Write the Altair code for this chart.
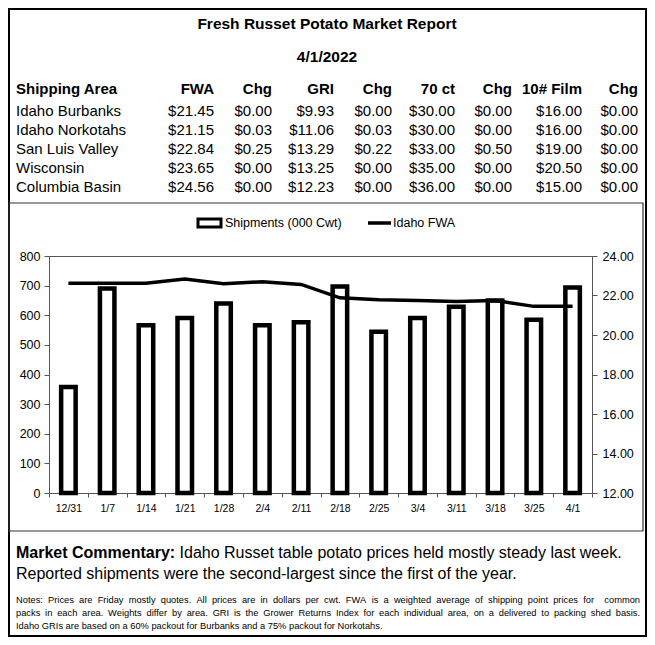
import altair as alt
import pandas as pd

# ---------------- data ----------------
weeks = ["12/31", "1/7", "1/14", "1/21", "1/28", "2/4", "2/11", "2/18",
         "2/25", "3/4", "3/11", "3/18", "3/25", "4/1"]
shipments = [358, 690, 566, 591, 640, 566, 576, 697, 544, 591, 629, 650, 585, 694]
idaho_fwa = [22.62, 22.62, 22.62, 22.84, 22.59, 22.70, 22.56, 21.88, 21.78,
             21.75, 21.70, 21.75, 21.45, 21.45]

areas = ["Idaho Burbanks", "Idaho Norkotahs", "San Luis Valley", "Wisconsin", "Columbia Basin"]
fwa = [21.45, 21.15, 22.84, 23.65, 24.56]
fwa_chg = [0.00, 0.03, 0.25, 0.00, 0.00]
gri = [9.93, 11.06, 13.29, 13.25, 12.23]
gri_chg = [0.00, 0.03, 0.22, 0.00, 0.00]
ct70 = [30.00, 30.00, 33.00, 35.00, 36.00]
ct70_chg = [0.00, 0.00, 0.50, 0.00, 0.00]
film10 = [16.00, 16.00, 19.00, 20.50, 15.00]
film10_chg = [0.00, 0.00, 0.00, 0.00, 0.00]
headers = ["FWA", "Chg", "GRI", "Chg", "70 ct", "Chg", "10# Film", "Chg"]
columns = [fwa, fwa_chg, gri, gri_chg, ct70, ct70_chg, film10, film10_chg]

title_text = "Fresh Russet Potato Market Report"
date_text = "4/1/2022"
legend_bar = "Shipments (000 Cwt)"
legend_line = "Idaho FWA"
comm_bold = "Market Commentary:"
comm_line1 = "Idaho Russet table potato prices held mostly steady last week."
comm_line2 = "Reported shipments were the second-largest since the first of the year."
notes_lines = [
    "Notes: Prices are Friday mostly quotes. All prices are in dollars per cwt. FWA is a weighted average of shipping point prices for  common",
    "packs in each area. Weights differ by area. GRI is the Grower Returns Index for each individual area, on a delivered to packing shed basis.",
    "Idaho GRIs are based on a 60% packout for Burbanks and a 75% packout for Norkotahs.",
]

# ---------------- layout (page px) ----------------
FONT = "Liberation Sans"
PX0, PY0 = 49, 256          # plot-area origin on the page
PW, PH = 543, 237           # plot-area size
SVG_W, SVG_H = 639, 629

# Arial / Liberation Sans advance widths (1/1000 em)
_W = {" ": 278, "!": 278, "#": 556, "$": 556, "%": 889, "(": 333, ")": 333, ",": 278,
      "-": 333, ".": 278, "/": 278, ":": 278, ";": 278}
for c in "0123456789":
    _W[c] = 556
_W.update(dict(zip("ABCDEFGHIJKLMNOPQRSTUVWXYZ",
                   [667, 667, 722, 722, 667, 611, 778, 722, 278, 500, 667, 556, 833,
                    722, 778, 667, 778, 722, 667, 611, 722, 667, 944, 667, 667, 611])))
_W.update(dict(zip("abcdefghijklmnopqrstuvwxyz",
                   [556, 556, 500, 556, 556, 278, 556, 556, 222, 222, 500, 222, 833,
                    556, 556, 556, 556, 333, 500, 278, 556, 500, 722, 500, 500, 500])))
_WB = dict(_W)
_WB.update(dict(zip("abcdefghijklmnopqrstuvwxyz",
                    [556, 611, 556, 611, 556, 333, 611, 611, 278, 278, 556, 278, 889,
                     611, 611, 611, 611, 389, 556, 333, 611, 556, 778, 556, 556, 500])))
_WB.update({":": 333, "A": 722, "B": 722, "C": 722, "M": 833, "S": 667})


def tw(s, size, bold=False):
    t = _WB if bold else _W
    return sum(t.get(c, 556) for c in s) * size / 1000.0


def rx(x):
    return x - PX0


def ry(y):
    return y - PY0


one = pd.DataFrame({"k": [0]})


def text(s, x, y, size, bold=False, align="left", baseline="middle", lh=None, color="black"):
    kw = dict(font=FONT, fontSize=size, align=align, baseline=baseline, color=color,
              fontWeight="bold" if bold else "normal")
    if lh is not None:
        kw["lineHeight"] = lh
    return alt.Chart(one).mark_text(**kw).encode(
        x=alt.value(rx(x)), y=alt.value(ry(y)), text=alt.value(s))


def justified(lines, x0, x1, y0, lh, size):
    """lay out words; all but the last line are stretched to [x0, x1]"""
    rows = []
    for i, ln in enumerate(lines):
        words = ln.split(" ")
        ws = [tw(w, size) for w in words]
        if i < len(lines) - 1 and len(words) > 1:
            gap = (x1 - x0 - sum(ws)) / (len(words) - 1)
        else:
            gap = tw(" ", size)
        x = x0
        for w, wd in zip(words, ws):
            if w:
                rows.append({"w": w, "x": rx(x), "y": ry(y0 + i * lh)})
            x += wd + gap
    d = pd.DataFrame(rows)
    return alt.Chart(d).mark_text(font=FONT, fontSize=size, align="left",
                                  baseline="middle", color="black").encode(
        x=alt.X("x:Q", scale=None, axis=None),
        y=alt.Y("y:Q", scale=None, axis=None),
        text="w:N")


def box(x1, y1, x2, y2, sw, color="black"):
    return alt.Chart(one).mark_rect(fillOpacity=0, stroke=color, strokeWidth=sw).encode(
        x=alt.value(rx(x1)), x2=alt.value(rx(x2)), y=alt.value(ry(y1)), y2=alt.value(ry(y2)))


df = pd.DataFrame({"week": weeks, "ship": shipments, "fwa": idaho_fwa})

axis_common = dict(labelFont=FONT, labelColor="black", domainColor="#555555",
                   tickColor="#555555", grid=False, title=None)

xenc = alt.X("week:N", sort=weeks,
             scale=alt.Scale(paddingInner=0, paddingOuter=0),
             axis=alt.Axis(labelAngle=0, labelFontSize=10.5, tickBand="extent",
                           tickSize=4, labelPadding=6, **axis_common))

bars = alt.Chart(df).mark_bar(size=14.5, fill="white", stroke="black", strokeWidth=4.5).encode(
    x=xenc,
    y=alt.Y("ship:Q", scale=alt.Scale(domain=[0, 800], nice=False),
            axis=alt.Axis(values=list(range(0, 801, 100)), labelFontSize=12.5,
                          tickSize=5, labelPadding=4, **axis_common)),
)

line = alt.Chart(df).mark_line(color="black", strokeWidth=3.5).encode(
    x=xenc,
    y=alt.Y("fwa:Q", scale=alt.Scale(domain=[12, 24], nice=False, zero=False),
            axis=alt.Axis(orient="right", values=[12, 14, 16, 18, 20, 22, 24], format=".2f",
                          labelFontSize=12.5, tickSize=5, labelPadding=5, **axis_common)),
)

back = [box(9, 9, 646, 636, 2), box(9, 203, 643, 531, 1.2, "#333333")]
layers = []

# header texts
layers.append(text(title_text, 327, 24, 15.5, bold=True, align="center"))
layers.append(text(date_text, 327, 57, 15.5, bold=True, align="center"))

# table
col_right = [214, 272, 334, 392, 455, 512, 582, 638]
row_first_baseline = 115.5
row_lh = 19.1
layers.append(text("Shipping Area", 16, 89, 15, bold=True))
layers.append(text(areas, 16, row_first_baseline, 15, baseline="alphabetic", lh=row_lh))
for h, xr, vals in zip(headers, col_right, columns):
    layers.append(text(h, xr, 89, 15, bold=True, align="right"))
    layers.append(text(["${:.2f}".format(v) for v in vals], xr, row_first_baseline, 15,
                       align="right", baseline="alphabetic", lh=row_lh))

# legend
layers.append(box(198, 219, 221, 227, 3))
layers.append(text(legend_bar, 225, 223, 12.5))
layers.append(alt.Chart(one).mark_rule(color="black", strokeWidth=3.5).encode(
    x=alt.value(rx(368)), x2=alt.value(rx(391)), y=alt.value(ry(223))))
layers.append(text(legend_line, 393, 223, 12.5))

# commentary
CS = 16
layers.append(text(comm_bold, 16, 553, CS, bold=True))
layers.append(text(comm_line1, 16 + tw(comm_bold + " ", CS, bold=True), 553, CS))
layers.append(text(comm_line2, 16, 574, CS))
layers.append(justified(notes_lines, 16, 640, 600, 13, 9.3))

chart = alt.layer(*back, bars, line, *layers).resolve_scale(
    y="independent"
).properties(
    width=PW, height=PH,
    padding={"left": PX0 - 8, "top": PY0 - 8,
             "right": SVG_W - (PX0 - 8) - PW, "bottom": SVG_H - (PY0 - 8) - PH},
    autosize=alt.AutoSizeParams(type="none"),
    background="white",
).configure_view(stroke="#555555", strokeWidth=1)

chart.save("out.html", embed_options={"renderer": "svg", "actions": False})
